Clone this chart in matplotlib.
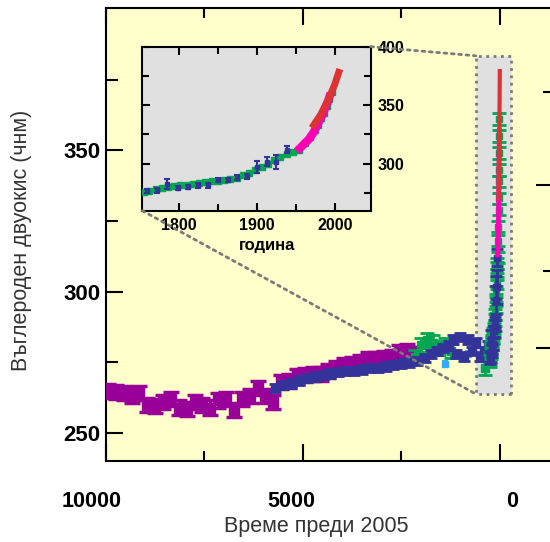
import matplotlib.pyplot as plt
import numpy as np
from matplotlib.patches import Rectangle, ConnectionPatch
from matplotlib.transforms import ScaledTranslation

# Colours
COLORS = {
    'purple': '#990099',
    'blue': '#333399',
    'green': '#00a651',
    'lightblue': '#33aaff',
    'magenta': '#ff00b4',
    'red': '#dd3333',
    'panel': '#ffffcc',
    'inset': '#e0e0e0',
    'dots': '#7a7a7a',
    'text': '#333333',
}

plt.rcParams['font.family'] = ['Liberation Sans', 'DejaVu Sans']

# ---- main panel data: years before 2005, CO2 in ppm ----
purple_age = [9950, 9750, 9550, 9350, 9150, 8950, 8750, 8550, 8350, 8150,
              7950, 7750, 7550, 7350, 7150, 6950, 6750, 6550, 6350, 6150,
              5950, 5750, 5550, 5350, 5150, 4950, 4750, 4550, 4350, 4150,
              3950, 3750, 3550, 3350, 3150, 2950, 2750, 2550, 2350, 2150]
purple_co2 = [265, 264.5, 264, 263, 264, 260, 259.5, 261, 262, 259,
              258.5, 261, 260, 259, 261.5, 262, 258, 262, 263, 266,
              263, 261, 268, 268.5, 270, 270.5, 271, 271, 272, 273,
              274, 274.5, 275, 276, 276, 276.5, 277, 278.5, 279, 278]

blue_age = [5700, 5500, 5300, 5100, 4900, 4700, 4500, 4300, 4100, 3900,
            3700, 3500, 3300, 3100, 2900, 2700, 2500, 2300, 2100, 1900,
            1750, 1600, 1450, 1300, 1200, 1100, 1000, 900, 800, 700,
            600, 500, 400, 300]
blue_co2 = [266, 267, 267.5, 268.5, 269.5, 270, 270.5, 271, 271.5, 272,
            272, 272.5, 273, 273, 273.5, 274, 274.5, 275, 275.5, 276.5,
            278, 279, 280, 281, 283, 278, 284, 277, 283, 279,
            282, 277, 279, 281]

green_old_age = [2150, 2000, 1850, 1700, 1550, 1400, 1250, 380]
green_old_co2 = [277, 281, 283, 282, 280, 281, 279, 273]

lightblue_age = [1400, 810]
lightblue_co2 = [274.5, 278]

# ---- recent data: calendar year, CO2 in ppm ----
green_year = [1755, 1762, 1770, 1778, 1786, 1794, 1802, 1810, 1818, 1826,
              1834, 1842, 1850, 1858, 1866, 1874, 1882, 1890, 1898, 1906,
              1914, 1922, 1930, 1938, 1946, 1954, 1962, 1968, 1974, 1978,
              1982, 1986, 1990, 1993, 1996]
green_co2 = [275.5, 276.5, 278, 279, 280, 280.5, 281.5, 282, 282.5, 283.5,
             284, 285, 285.5, 286, 287, 288, 290, 292, 294.5, 297,
             300, 303, 306, 308.5, 310, 312, 318, 323, 329, 333,
             339, 343, 349, 355, 361]

blue_year = [1759, 1772, 1785, 1799, 1812, 1824, 1837, 1850, 1863, 1874,
             1887, 1900, 1913, 1925, 1938]
blue_year_co2 = [276.5, 277, 282.5, 279, 280, 281.5, 281.5, 286, 286, 288,
                 289, 297, 301.5, 301.5, 312]
blue_year_err = [2, 2, 4, 2, 2, 2, 2, 2, 2, 2, 2, 5, 4, 6, 3]

magenta_year = [1955, 1958, 1961, 1964, 1967, 1970, 1973, 1976, 1979, 1982,
                1985, 1988, 1991, 1993]
magenta_co2 = [313, 315, 317, 319, 321, 324, 327, 331, 335, 339,
               343, 348, 353, 357]

red_year = [1973, 1976, 1979, 1982, 1985, 1988, 1991, 1994, 1997, 2000,
            2003, 2005]
red_co2 = [333, 336, 339, 342, 346, 350, 354, 358, 363, 368, 374, 378]


def draw_points(axis, x, y, err, color, ms, cap, lw, z):
    axis.errorbar(x, y, yerr=err, fmt='s', color=color, ms=ms, mec=color,
                  ecolor=color, elinewidth=lw, capsize=cap, capthick=lw,
                  zorder=z)


fig = plt.figure(figsize=(5.5, 5.42), dpi=100)
fig.patch.set_facecolor('white')

ax = fig.add_axes([0.1927, 0.150, 0.8127, 0.8352])
ax.set_facecolor(COLORS['panel'])
ax.set_xlim(10000, -1350)
ax.set_ylim(240.2, 400.3)

# grey zoom box around the last few centuries
ax.add_patch(Rectangle((-280, 263.8), 890, 119.6, facecolor=COLORS['inset'],
                       edgecolor=COLORS['dots'], linestyle=':', lw=2, zorder=1))

draw_points(ax, purple_age, purple_co2, 2.5, COLORS['purple'], 7.5, 6, 2.5, 3)
draw_points(ax, blue_age, blue_co2, 1.5, COLORS['blue'], 5.5, 4, 2, 4)
draw_points(ax, green_old_age, green_old_co2, 2.5, COLORS['green'], 6, 5, 2, 3.5)
draw_points(ax, lightblue_age, lightblue_co2, 1, COLORS['lightblue'], 4, 2, 1.5, 3.6)

age = lambda yrs: [2005 - v for v in yrs]
draw_points(ax, age(green_year), green_co2, 2, COLORS['green'], 5, 5, 2, 5)
draw_points(ax, age(blue_year), blue_year_co2, blue_year_err, COLORS['blue'], 4.5, 4, 2, 6)
ax.plot(age(magenta_year), magenta_co2, color=COLORS['magenta'], lw=3.5, zorder=7)
ax.plot(age(red_year), red_co2, color=COLORS['red'], lw=3, zorder=8)

# axes styling
for side in ['left', 'bottom', 'top', 'right']:
    ax.spines[side].set_linewidth(1.5)

ax.set_xticks([10000, 5000, 0])
ax.set_xticks([7500, 2500], minor=True)
ax.set_xticklabels(['10000', '5000', '0'], fontsize=15.5, fontweight='bold')
ax.tick_params(axis='x', which='both', direction='in', top=True, bottom=True, width=1.5)
ax.tick_params(axis='x', which='major', length=12, pad=22)
ax.tick_params(axis='x', which='minor', length=7.5)
for lbl, dx in zip(ax.get_xticklabels(), [-10, -8.4, 9]):
    lbl.set_transform(lbl.get_transform() + ScaledTranslation(dx / 72, 0, fig.dpi_scale_trans))

ax.set_yticks([250, 300, 350])
ax.set_yticks([275, 325, 375], minor=True)
ax.set_yticklabels(['250', '300', '350'], fontsize=16, fontweight='bold')
ax.tick_params(axis='y', which='both', direction='in', left=True, right=False, width=1.5)
ax.tick_params(axis='y', which='major', length=12, pad=4)
ax.tick_params(axis='y', which='minor', length=8.5)

# radiative forcing scale on the right (mostly cut off)
sec = ax.secondary_yaxis('right', functions=(lambda c: 5.35 * np.log(np.clip(c, 1, None) / 280.0),
                                            lambda f: 280.0 * np.exp(f / 5.35)))
sec.set_yticks([0, 1])
sec.set_yticks([0.5, 1.5], minor=True)
sec.tick_params(which='both', direction='in', labelright=False, width=1.5)
sec.tick_params(which='major', length=12)
sec.tick_params(which='minor', length=7.5)
sec.spines['right'].set_linewidth(1.5)

ax.set_xlabel('Време преди 2005', fontsize=15.5, color=COLORS['text'])
ax.xaxis.set_label_coords(0.471, -0.122)
ax.set_ylabel('Въглероден двуокис (чнм)', fontsize=15.5, color=COLORS['text'])
ax.yaxis.set_label_coords(-0.165, 0.4875)

# ---- inset ----
ins = fig.add_axes([0.2587, 0.6113, 0.4153, 0.3026])
ins.set_facecolor(COLORS['inset'])
ins.set_xlim(1753, 2046)
ins.set_ylim(259.7, 400)

draw_points(ins, green_year, green_co2, 1.5, COLORS['green'], 5, 2.5, 2, 3)
draw_points(ins, blue_year, blue_year_co2, blue_year_err, COLORS['blue'], 3.5, 2.5, 1.5, 4)
ins.plot(magenta_year, magenta_co2, color=COLORS['magenta'], lw=6, zorder=5)
ins.plot(red_year, red_co2, color=COLORS['red'], lw=5, zorder=6)

for side in ['left', 'bottom', 'top', 'right']:
    ins.spines[side].set_linewidth(1.5)
ins.set_xticks([1800, 1900, 2000])
ins.set_xticks([1850, 1950], minor=True)
ins.set_xticklabels(['1800', '1900', '2000'], fontsize=11.5, fontweight='bold')
ins.set_yticks([300, 350, 400])
ins.set_yticks([275, 325, 375], minor=True)
ins.set_yticklabels(['300', '350', '400'], fontsize=11.5, fontweight='bold')
ins.tick_params(which='both', direction='in', top=True, bottom=True, left=True, right=True,
                labelleft=False, labelright=True, width=1.5)
ins.tick_params(which='major', length=6, pad=5)
ins.tick_params(which='minor', length=5)
ins.set_xlabel('година', fontsize=12, fontweight='bold')
ins.xaxis.set_label_coords(0.546, -0.166)

# dotted connectors from the inset to the grey box
for corner_ins, corner_box in [((1, 1), (610, 383.4)), ((0, 0), (610, 263.8))]:
    con = ConnectionPatch(xyA=corner_ins, coordsA=ins.transAxes, xyB=corner_box,
                          coordsB=ax.transData, linestyle=':', color=COLORS['dots'], lw=2)
    con.set_zorder(2)
    fig.add_artist(con)

fig.savefig('out.png', dpi=100, facecolor='white')
